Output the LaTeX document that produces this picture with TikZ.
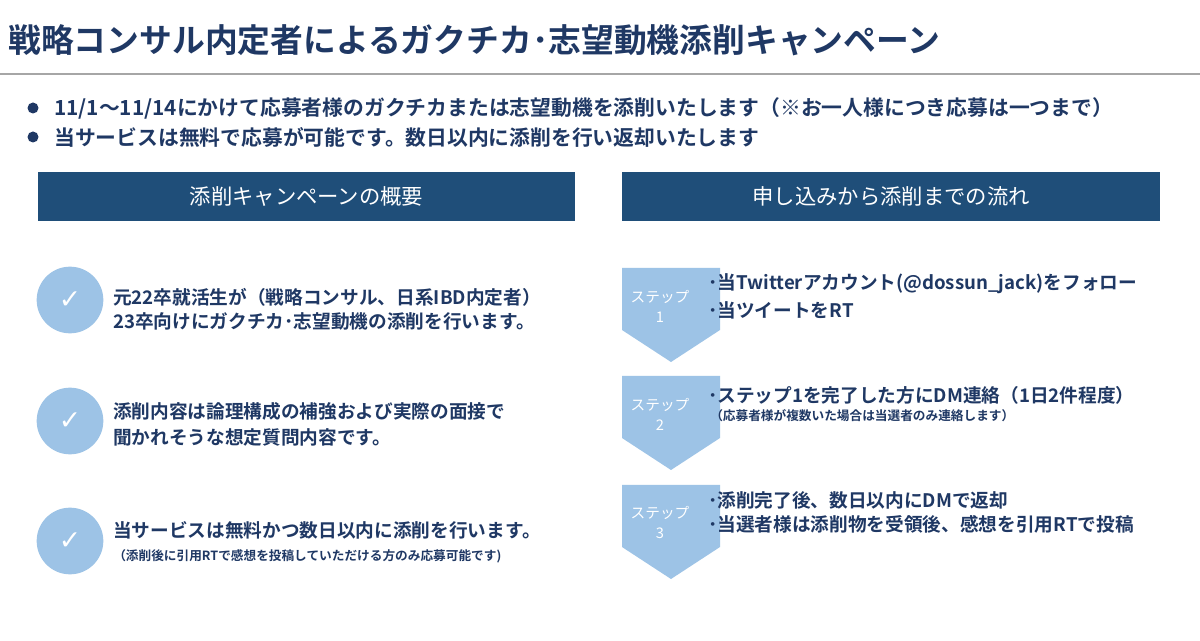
\documentclass[tikz,border=0pt]{standalone}
\usepackage{fontspec}
\setmainfont{Noto Sans CJK JP}
\newfontfamily\jpb{Noto Sans CJK JP Bold}
\newfontfamily\djsym{DejaVu Sans}
\definecolor{navy}{HTML}{1F3864}
\definecolor{hdr}{HTML}{1F4E79}
\definecolor{lb}{HTML}{9DC3E6}
\begin{document}
\begin{tikzpicture}[x=0.75pt,y=-0.75pt,
  txt/.style={anchor=west,text=navy,font=\jpb\fontsize{14}{16}\selectfont,inner sep=0},
  btxt/.style={anchor=west,text=navy,font=\jpb\fontsize{15.6}{17}\selectfont,inner sep=0},
  small/.style={anchor=west,text=navy,font=\jpb\fontsize{9.5}{11}\selectfont,inner sep=0},
  hbox/.style={fill=hdr,text=white,minimum width=403pt,minimum height=37pt,font=\fontsize{16}{18}\selectfont,inner sep=0},
  chk/.style={circle,fill=lb,minimum size=50pt,text=white,font=\djsym\fontsize{20}{20}\selectfont,inner sep=0},
  steplbl/.style={text=white,font=\fontsize{11}{15}\selectfont,align=center,inner sep=0}]
\useasboundingbox (0,0) rectangle (1200,641);
\fill[white] (0,0) rectangle (1200,641);
\node[anchor=west,text=navy,font=\jpb\fontsize{24.6}{26}\selectfont,inner sep=0] (title) at (8,40) {戦略コンサル内定者によるガクチカ･志望動機添削キャンペーン};
\draw[gray!70,line width=1.2pt] (0,74) -- (1200,74);
\fill[navy] (33,108) circle (5.5);
\fill[navy] (33,137) circle (5.5);
\node[btxt] (b1) at (54,108) {11/1～11/14にかけて応募者様のガクチカまたは志望動機を添削いたします（※お一人様につき応募は一つまで）};
\node[btxt] (b2) at (54,137) {当サービスは無料で応募が可能です。数日以内に添削を行い返却いたします};
\node[hbox] (h1) at (306.5,196.5) {添削キャンペーンの概要};
\node[hbox] (h2) at (891,196.5) {申し込みから添削までの流れ};
\node[chk] (c1) at (70,300) {✓};
\node[chk] (c2) at (70,421) {✓};
\node[chk] (c3) at (70,541) {✓};
\node[txt] (t1) at (113,297) {元22卒就活生が（戦略コンサル、日系IBD内定者）};
\node[txt] (t2) at (113,321) {23卒向けにガクチカ･志望動機の添削を行います。};
\node[txt] (t3) at (113,411) {添削内容は論理構成の補強および実際の面接で};
\node[txt] (t4) at (113,437) {聞かれそうな想定質問内容です。};
\node[txt] (t5) at (113,530) {当サービスは無料かつ数日以内に添削を行います。};
\node[small] (t6) at (113,556) {（添削後に引用RTで感想を投稿していただける方のみ応募可能です)};
\foreach \y/\n in {268/1,376/2,485/3}{
  \fill[lb] (622,\y) -- (720,\y) -- (720,\y+62) -- (671,\y+94) -- (622,\y+62) -- cycle;
  \node[steplbl] (s\n) at (660,\y+38) {ステップ\\\n};
}
\node[txt] (r1) at (708,284) {･当Twitterアカウント(@dossun\_jack)をフォロー};
\node[txt] (r2) at (708,310) {･当ツイートをRT};
\node[txt] (r3) at (708,395) {･ステップ1を完了した方にDM連絡（1日2件程度）};
\node[small] (r4) at (710,416) {（応募者様が複数いた場合は当選者のみ連絡します）};
\node[txt] (r5) at (708,500) {･添削完了後、数日以内にDMで返却};
\node[txt] (r6) at (708,524) {･当選者様は添削物を受領後、感想を引用RTで投稿};
\end{tikzpicture}
\end{document}
